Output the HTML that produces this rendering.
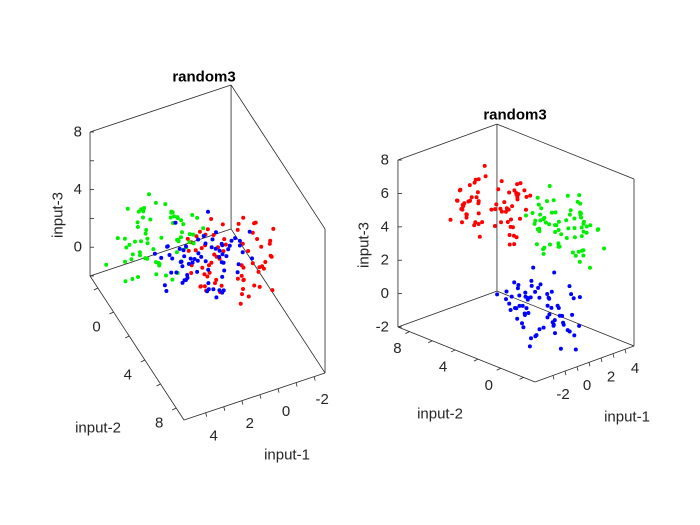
<!DOCTYPE html>
<html><head><meta charset="utf-8"><style>
html,body{margin:0;padding:0;background:#fff;}
svg{display:block;font-family:"Liberation Sans",Arial,sans-serif;}
</style></head><body>
<svg id="fig" width="700" height="525" viewBox="0 0 700 525">
<rect width="700" height="525" fill="#fff"/>
<g id="left"></g>
<g id="right"></g>
</svg>
<script>
// cluster centers (input-1, input-2, input-3)
const redCenter = [1.2, 5.7, 4.7];
const greenCenter = [3.5, 1.9, 4.0];
const blueCenter = [0.45, 0.7, 0.2];
// offsets from centers
const redD1 = [0.4,-1.1,0.9,1.6,-0.3,-2.0,0.7,0.2,-0.8,1.8,-1.4,0.5,-0.1,1.2,-0.9,2.2,-1.7,0.6,0.0,1.3,-1.2,0.3,-0.5,0.8,-1.5,1.5,-0.4,0.1,-2.3,1.0,-0.7,0.2,1.1,-0.6,1.9,-1.0,0.4,-0.2,1.4,-1.6,0.9,-0.3,0.6,-1.3,1.7,-0.2,0.8,-1.9,1.0,0.3,-0.6,1.4,-1.0,0.5,-0.4,2.0,-1.2,0.1,0.7,-0.8,1.1,-0.5,-1.4,0.2,0.9,-0.1,1.6,-0.7,0.4,-1.1];
const redD2 = [-0.6,1.3,0.2,-1.5,0.8,0.4,-2.1,1.7,-0.3,0.5,1.0,-0.9,2.0,-0.2,-1.2,0.3,0.9,-1.7,1.4,-0.5,0.1,-1.0,2.4,0.6,-0.4,-1.3,0.7,1.8,-0.1,-0.8,1.1,-1.9,0.0,1.5,-0.7,0.4,-1.4,0.9,-0.2,1.2,-1.1,0.3,-0.6,2.1,-0.3,0.9,-1.2,0.4,-0.5,1.6,0.2,-0.9,1.1,-1.6,0.6,-0.1,1.3,-0.7,-1.0,0.3,0.8,-2.0,0.5,-0.3,1.0,-0.8,0.1,1.9,-0.4,0.7];
const redD3 = [0.5,0.2,-1.0,0.8,1.6,-0.3,0.4,-1.4,2.2,-0.6,0.1,1.1,-0.8,-1.7,0.6,0.3,1.3,-0.2,-1.1,0.9,2.0,-0.5,0.0,-1.3,1.5,0.7,-0.9,0.2,1.0,-2.0,0.4,1.2,-0.4,-0.7,0.8,1.7,-1.2,0.3,-0.1,0.6,-1.5,2.5,0.1,-0.8,1.1,-0.4,1.0,0.6,-1.1,0.2,-0.6,1.4,-0.3,0.9,-1.6,0.4,0.0,1.8,-0.9,0.5,-0.2,-1.3,0.7,1.2,-0.5,0.3,-1.0,0.8,-0.1,1.5];
const greenD1 = [1.1,-0.4,0.6,-1.6,0.2,1.8,-0.9,0.0,-1.3,0.7,2.1,-0.5,0.4,-2.0,1.3,-0.2,0.9,-1.1,0.3,1.5,-0.7,-0.1,1.0,-1.8,0.5,-0.3,1.7,-1.0,0.8,-0.6,2.4,-1.4,0.1,0.6,-0.8,1.2,-0.2,-1.5,0.9,0.3,-1.2,1.4,-0.4,0.2,-0.9,0.7,-1.1,0.4,1.6,-0.6,0.0,-1.7,1.0,0.5,-0.3,1.3,-0.8,0.2,-1.4,0.9,0.6,-0.2,1.9,-1.0,0.3,-0.5,1.1,-0.9,0.1,0.8];
const greenD2 = [0.2,1.4,-0.8,0.5,-1.5,0.9,1.6,-0.4,0.3,-2.2,0.7,1.1,-1.0,0.0,-0.6,1.9,-1.3,0.4,2.3,-0.7,0.6,-1.8,0.1,1.2,-0.3,0.8,-1.1,-0.5,1.5,0.3,-0.9,0.5,-1.6,1.0,-0.2,0.2,1.7,-1.2,-0.4,0.7,-0.1,0.9,-2.0,1.3,-0.6,-1.0,0.4,1.2,-0.3,0.8,-1.4,0.1,0.6,-0.7,2.0,-0.2,-1.1,0.5,0.9,-0.5,1.3,-1.7,0.3,-0.9,0.0,1.5,-0.4,0.7,-1.2,0.2];
const greenD3 = [-0.3,0.9,1.5,-0.6,0.2,-1.2,0.7,2.0,-0.9,0.4,-0.1,-1.6,1.1,0.5,-0.4,1.3,-2.1,0.8,-0.7,0.0,1.6,-1.0,0.3,0.9,-1.4,2.3,-0.2,0.6,-0.8,1.0,-1.5,0.1,0.7,-0.5,1.2,-1.9,0.4,-0.3,1.8,-1.1,0.6,0.2,-0.6,-1.3,0.8,0.5,-0.9,1.2,-0.2,0.3,-1.5,0.9,-0.4,1.6,0.0,-0.7,1.0,-1.2,0.4,0.7,-0.3,1.4,-1.8,0.2,-0.6,1.1,-0.1,0.6,-1.0,0.8];
const blueD1 = [-0.5,0.8,1.4,-1.2,0.3,-0.1,2.0,-1.7,0.6,-0.4,1.1,0.2,-2.1,0.9,-0.8,1.6,0.0,-1.0,0.4,1.3,-0.6,-1.5,0.7,2.2,-0.3,0.5,-1.1,1.0,-0.2,0.1,-1.8,1.5,0.8,-0.7,0.3,-1.3,1.9,-0.5,0.6,-0.9,1.2,-0.1,-1.4,0.4,0.9,0.2,-0.7,1.3,-1.1,0.5,-0.3,1.7,-0.9,0.1,0.8,-1.6,0.4,-0.2,1.0,-0.5,1.5,-1.2,0.3,0.7,-0.8,0.0,1.1,-0.4,-1.0,0.6];
const blueD2 = [1.2,-0.3,0.5,0.9,-1.6,0.2,-0.7,1.8,-1.1,0.0,-0.4,1.5,0.6,-1.9,0.3,-0.9,2.1,-0.2,1.0,-1.3,0.4,0.8,-0.5,-1.0,1.6,-0.1,0.7,-2.2,1.3,-0.6,0.1,-1.4,0.9,0.5,-0.8,1.1,-0.3,0.2,-1.2,1.9,-0.7,0.6,-0.2,1.4,-1.5,-0.4,1.0,-1.1,0.3,0.7,-0.6,1.2,-1.7,0.5,-0.1,0.9,-0.8,1.6,0.0,-1.3,0.4,-0.5,1.1,-0.9,0.2,1.4,-0.3,0.8,-1.0,0.6];
const blueD3 = [0.1,-0.9,0.6,1.7,-0.3,-1.4,0.4,0.9,-2.0,1.2,0.0,-0.6,1.5,-1.1,0.3,0.8,-0.4,-1.7,2.1,-0.2,0.7,1.0,-1.3,0.5,-0.8,0.2,1.4,-0.5,-1.0,0.9,0.6,-2.2,0.3,1.1,-0.7,0.1,-1.5,1.8,-0.1,0.4,-0.9,1.3,0.2,-0.6,1.6,-0.3,0.8,-1.2,0.5,1.0,-0.7,0.2,1.4,-1.6,0.0,0.6,-0.4,1.1,-0.9,0.3,1.7,-1.1,0.4,-0.2,0.9,-1.3,0.1,0.7,-0.5,1.2];
const spread = 1.05;
const zTicksRight = [-2,0,2,4,6,8];
const zTicksLeft = [0,4,8];
const x2Ticks = [0,4,8];
const x1Ticks = [-2,0,2,4];

const NS = "http://www.w3.org/2000/svg";
function mk(parent, tag, attrs){const e=document.createElementNS(NS,tag);for(const k in attrs)e.setAttribute(k,attrs[k]);parent.appendChild(e);return e;}

const views = {
  left: {
    P:(a,b,c)=>[184+(a-5.2)*-18.08+(b-9)*7.83, 420+(a-5.2)*6.03+(b-9)*12-(c+2)*14.4],
    zTicks:zTicksLeft, zEdge:[5.2,-3], x2Edge:5.2, x1Edge:9,
    x2Off:[-17,15], x1Off:[8,23], zLabelX:82,
    title:[204,77], lab3:[58,215], lab2:[98,428], lab1:[287,455],
    edges:[[[5.2,-3,8],[-2.6,-3,8]],[[-2.6,-3,8],[-2.6,9,8]],[[5.2,-3,8],[5.2,-3,-2]],[[-2.6,-3,8],[-2.6,-3,-2]],[[-2.6,9,8],[-2.6,9,-2]],
           [[5.2,-3,-2],[-2.6,-3,-2]],[[-2.6,-3,-2],[-2.6,9,-2]],[[5.2,-3,-2],[5.2,9,-2]],[[5.2,9,-2],[-2.6,9,-2]]]
  },
  right: {
    P:(a,b,c)=>[535+(a+3.5)*12+(b+3)*-11.42, 382+(a+3.5)*-4.36+(b+3)*-4.58-(c+2)*16.7],
    zTicks:zTicksRight, zEdge:[-3.5,9], x2Edge:-3.5, x1Edge:-3,
    x2Off:[-12,17], x1Off:[10,19], zLabelX:389,
    title:[515,115], lab3:[364,245], lab2:[440,414], lab1:[627,417],
    edges:[[[-3.5,9,8],[4.75,9,8]],[[4.75,9,8],[4.75,-3,8]],[[-3.5,9,8],[-3.5,9,-2]],[[4.75,9,8],[4.75,9,-2]],[[4.75,-3,8],[4.75,-3,-2]],
           [[4.75,9,-2],[-3.5,9,-2]],[[4.75,9,-2],[4.75,-3,-2]],[[-3.5,9,-2],[-3.5,-3,-2]],[[-3.5,-3,-2],[4.75,-3,-2]]]
  }
};

function txt(g,x,y,s,anchor,extra){const t=mk(g,"text",Object.assign({x:x,y:y,"font-size":15,fill:"#262626","text-anchor":anchor||"middle","dominant-baseline":"central"},extra||{}));t.textContent=s;return t;}

for(const side of ["left","right"]){
  const v=views[side], g=document.getElementById(side), P=v.P;
  const eg=mk(g,"g",{});
  
  
  for(const [p,q] of v.edges){const a=P(...p),b=P(...q);mk(eg,"line",{x1:a[0],y1:a[1],x2:b[0],y2:b[1],stroke:"#262626","stroke-width":0.8});}
  const zg=mk(g,"g",{});
  
  
  for(let z=-2;z<=8;z+=2){const p=P(v.zEdge[0],v.zEdge[1],z);mk(zg,"line",{x1:p[0],y1:p[1],x2:p[0]+4,y2:p[1],stroke:"#262626","stroke-width":0.8});}
  for(const z of v.zTicks){const p=P(v.zEdge[0],v.zEdge[1],z);const t=txt(zg,v.zLabelX,p[1],String(z),"end");
    
    }
  const x2g=mk(g,"g",{});
  
  
  for(let b=-2;b<=8;b+=2){const p=P(v.x2Edge,b,-2);mk(x2g,"line",{x1:p[0],y1:p[1],x2:p[0]-4,y2:p[1]+2,stroke:"#262626","stroke-width":0.8});}
  for(const b of x2Ticks){const p=P(v.x2Edge,b,-2);const t=txt(x2g,p[0]+v.x2Off[0],p[1]+v.x2Off[1],String(b));
    
    }
  const x1g=mk(g,"g",{});
  
  
  for(let a=-2;a<=4;a+=1){const p=P(a,v.x1Edge,-2);mk(x1g,"line",{x1:p[0],y1:p[1],x2:p[0]+1,y2:p[1]+4,stroke:"#262626","stroke-width":0.8});}
  for(const a of x1Ticks){const p=P(a,v.x1Edge,-2);const t=txt(x1g,p[0]+v.x1Off[0],p[1]+v.x1Off[1],String(a));
    
    }
  const series=[["red",redCenter,redD1,redD2,redD3,"#ff0000"],["green",greenCenter,greenD1,greenD2,greenD3,"#00ee00"],["blue",blueCenter,blueD1,blueD2,blueD3,"#0000ff"]];
  for(const [name,c,d1,d2,d3,col] of series){
    const sg=mk(g,"g",{fill:col});
    
    
    const n=Math.min(d1.length,d2.length,d3.length);
    for(let i=0;i<n;i++){const p=P(c[0]+spread*d1[i],c[1]+spread*d2[i],c[2]+spread*d3[i]);const dot=mk(sg,"circle",{cx:p[0].toFixed(1),cy:p[1].toFixed(1),r:2});
      
      }
  }
  const tt=txt(g,v.title[0],v.title[1],"random3","middle",{"font-weight":"bold",fill:"#000"});
  
  
  const l3=txt(g,v.lab3[0],v.lab3[1],"input-3","middle",{transform:"rotate(-90 "+v.lab3[0]+" "+v.lab3[1]+")"});
  
  
  const l2=txt(g,v.lab2[0],v.lab2[1],"input-2");
  
  
  const l1=txt(g,v.lab1[0],v.lab1[1],"input-1");
  
  
}
</script>
</body></html>
